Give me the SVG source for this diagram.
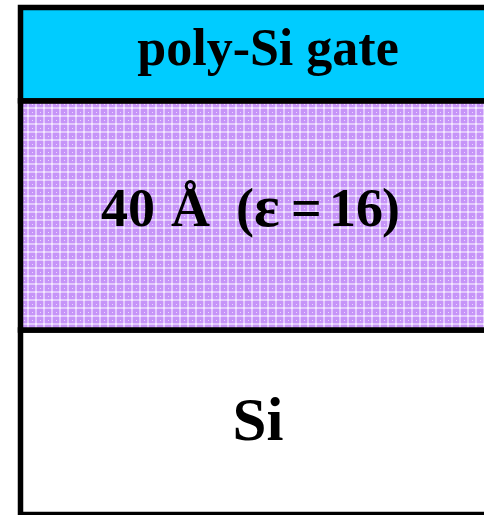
<svg xmlns="http://www.w3.org/2000/svg" width="484" height="515" viewBox="0 0 484 515">
<style>
.lbl{font-family:"Liberation Serif","Times New Roman",serif;font-weight:bold;fill:#000;}
.layer{stroke:#000;stroke-width:5.5;}
</style>
<defs>
<pattern id="hatch" width="8" height="8" patternUnits="userSpaceOnUse">
<rect width="8" height="8" fill="#C694F8"/>
<rect x="0" y="3" width="8" height="2" fill="#E2C8FC"/>
<rect x="3" y="0" width="2" height="8" fill="#E2C8FC"/>
<rect x="3" y="3" width="2" height="2" fill="#F4EAFE"/>
<rect x="0" y="0" width="1" height="1" fill="#EAD8FD"/>
</pattern>
</defs>
<rect width="484" height="515" fill="#fff"/>
<g id="substrate">
<rect class="layer" x="20.5" y="330" width="520" height="184.5" fill="#fff"/>
<text class="lbl" x="258" y="440" font-size="61" text-anchor="middle">Si</text>
</g>
<g id="oxide">
<rect class="layer" x="20.5" y="100.8" width="520" height="229.2" fill="url(#hatch)"/>
<text class="lbl" y="226" font-size="54"><tspan x="101">40</tspan><tspan x="171">Å</tspan><tspan x="236">(</tspan><tspan x="254" font-size="60">ε</tspan><tspan x="291">=</tspan><tspan x="329">16</tspan><tspan x="382">)</tspan></text>
</g>
<g id="gate">
<rect class="layer" x="20.5" y="7.5" width="520" height="93.3" fill="#00CCFF"/>
<text class="lbl" x="268" y="65" font-size="52" text-anchor="middle">poly-Si gate</text>
</g>
</svg>
